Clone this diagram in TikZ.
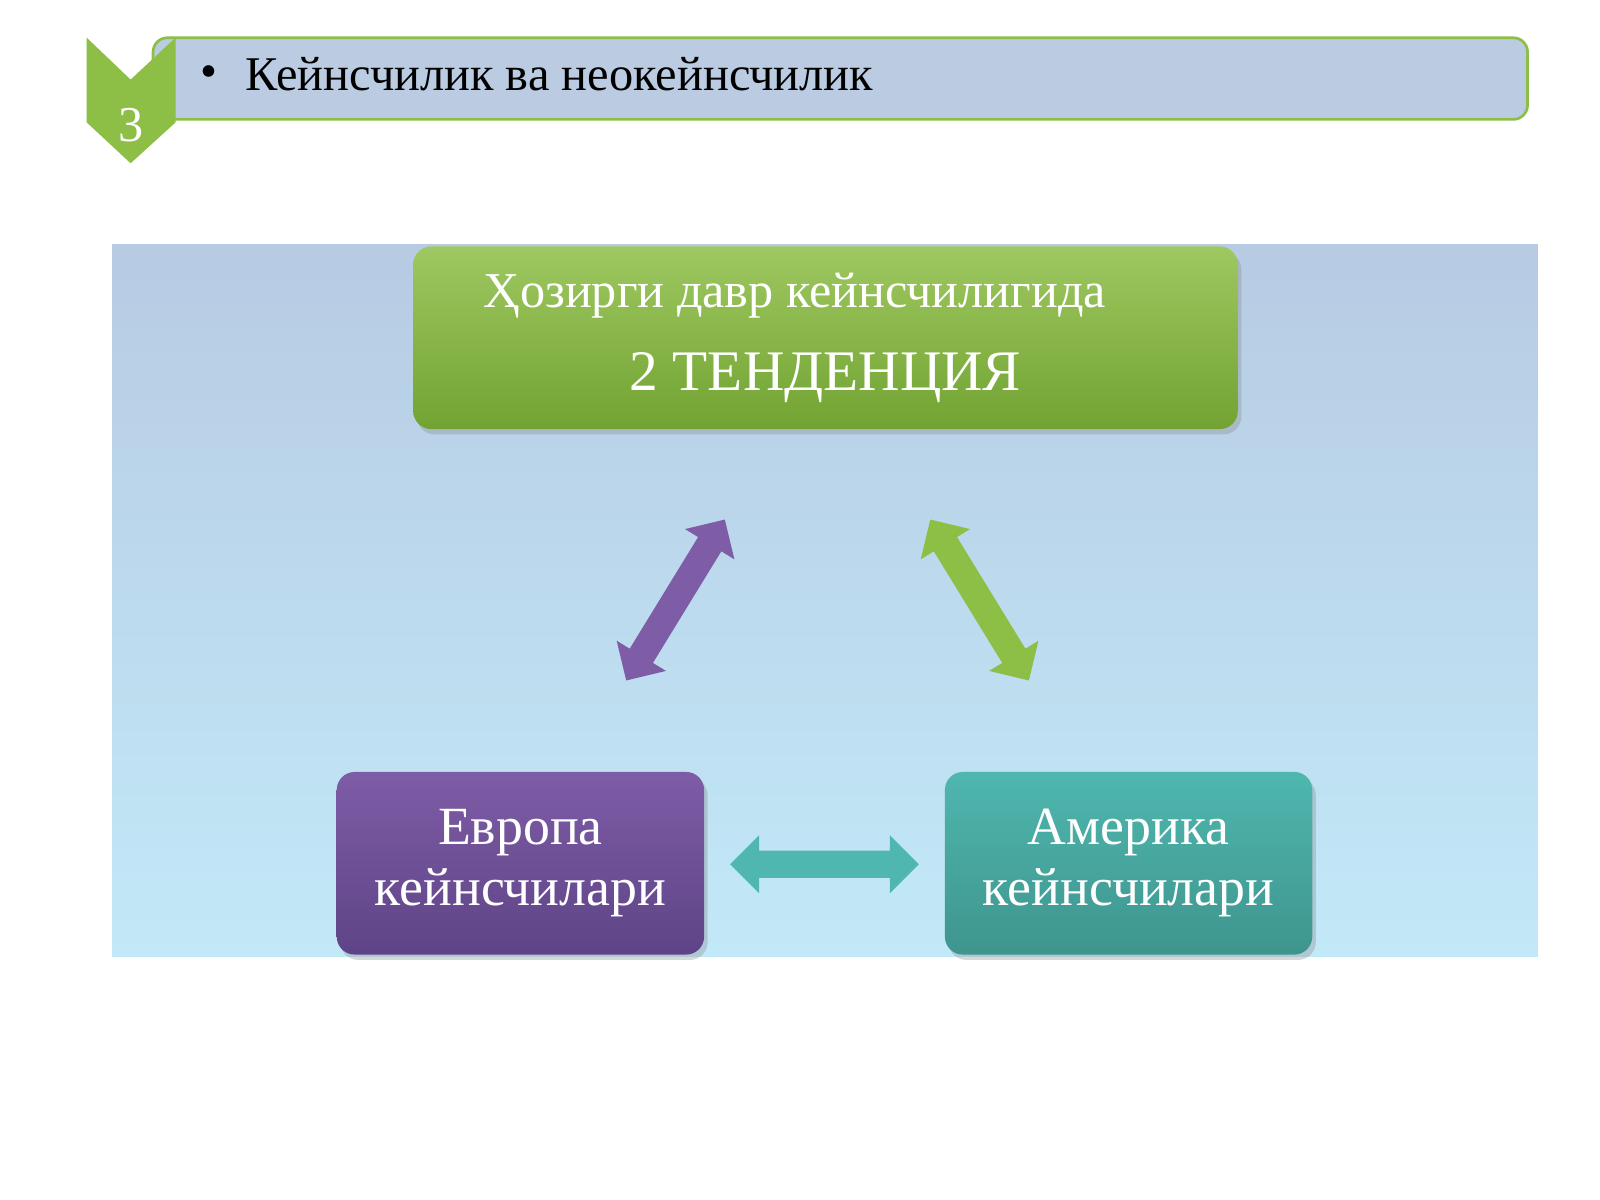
\documentclass[tikz,border=0pt]{standalone}
\usepackage{fontspec}
\setmainfont{Liberation Serif}
\usetikzlibrary{positioning, shapes.arrows, shadows}

\definecolor{leafgreen}{HTML}{8DBE45}
\definecolor{leafdark}{HTML}{72A332}
\definecolor{plum}{HTML}{7E5CA6}
\definecolor{plumdark}{HTML}{5E4486}
\definecolor{seateal}{HTML}{4FB7AE}
\definecolor{seadark}{HTML}{3E958E}
\definecolor{skytop}{HTML}{B7CBE3}
\definecolor{skybot}{HTML}{C2E9F8}
\definecolor{bannerfill}{HTML}{BACBE2}

\tikzset{
  tbox/.style={rounded corners=10pt, minimum width=360*0.02cm, minimum height=179*0.02cm,
    align=center, text=white, font=\fontsize{30}{34}\selectfont,
    drop shadow={opacity=0.3, shadow xshift=2pt, shadow yshift=-3pt}},
  fatarrow/.style={double arrow, minimum height=185*0.02cm, text height=26*0.02cm, text depth=0pt,
    text width=0pt, double arrow head extend=15*0.02cm, inner sep=0pt, draw=none}
}

\begin{document}
\begin{tikzpicture}[x=0.02cm, y=-0.02cm]
  \useasboundingbox (0,0) rectangle (1568,1176);
  \fill[white] (0,0) rectangle (1568,1176);
  % heading
  \draw[draw=leafgreen, line width=1.5pt, fill=bannerfill, rounded corners=8pt]
    (150,37) rectangle (1497,117);
  \fill[leafgreen] (85,37) -- (128,78) -- (172,37) -- (172,120) -- (128,160) -- (85,120) -- cycle;
  \node[text=white, font=\fontsize{28}{30}\selectfont] (num) at (128,123) {3};
  \node[anchor=west, font=\fontsize{27}{30}\selectfont] (head) at (190,73)
    {\raisebox{2pt}{\textbullet}\hspace{16pt}Кейнсчилик ва неокейнсчилик};
  % panel
  \shade[top color=skytop, bottom color=skybot] (110,240) rectangle (1507,937);
  % boxes
  \node[tbox, top color=leafgreen!85!white, bottom color=leafdark, minimum width=808*0.02cm,
    font=\fontsize{28}{44}\selectfont] (top) at (809,331)
    {\hspace*{-1.2cm}Ҳозирги давр кейнсчилигида\\[2pt] \fontsize{32}{40}\selectfont 2 ТЕНДЕНЦИЯ};
  \node[tbox, top color=plum, bottom color=plumdark] (euro) at (510,846) {Европа\\кейнсчилари};
  \node[tbox, top color=seateal, bottom color=seadark] (amer) at (1106,846) {Америка\\кейнсчилари};
  % arrows
  \node[fatarrow, rotate=58.5, fill=plum] (a1) at (662,588) {};
  \node[fatarrow, rotate=-58.5, fill=leafgreen] (a2) at (960,588) {};
  \node[fatarrow, fill=seateal] (a3) at (808,847) {};
\end{tikzpicture}
\end{document}
